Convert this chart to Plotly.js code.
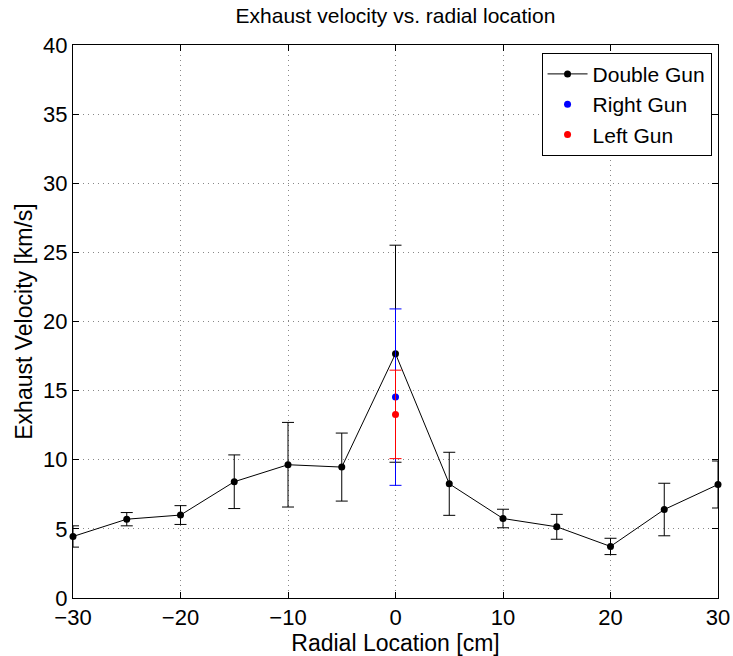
<!DOCTYPE html>
<html>
<head>
<meta charset="utf-8">
<script src="https://cdn.plot.ly/plotly-3.0.1.min.js"></script>
<style>html,body{margin:0;padding:0;background:#fff;}#chart{width:733px;height:656px;}</style>
</head>
<body>
<div id="chart"></div>
<script>
const radial = [-30, -25, -20, -15, -10, -5, 0, 5, 10, 15, 20, 25, 30];
const doubleGun = [4.45, 5.70, 6.0, 8.41, 9.64, 9.47, 17.67, 8.26, 5.75, 5.15, 3.73, 6.40, 8.21];
const doubleErr = [0.77, 0.48, 0.68, 1.94, 3.06, 2.46, 7.85, 2.28, 0.67, 0.90, 0.59, 1.90, 1.70];
const rightX = [0];
const rightGun = [14.53];
const rightErr = [6.38];
const leftX = [0];
const leftGun = [13.28];
const leftErr = [3.2];

const traces = [
  {
    x: radial, y: doubleGun, name: 'Double Gun', type: 'scatter', mode: 'lines+markers',
    line: {color: 'black', width: 1}, marker: {color: 'black', size: 7},
    error_y: {type: 'data', array: doubleErr, visible: true, color: 'black', thickness: 1, width: 6},
    cliponaxis: false
  },
  {
    x: rightX, y: rightGun, name: 'Right Gun', type: 'scatter', mode: 'markers',
    marker: {color: 'blue', size: 7},
    error_y: {type: 'data', array: rightErr, visible: true, color: 'blue', thickness: 1, width: 6},
    cliponaxis: false
  },
  {
    x: leftX, y: leftGun, name: 'Left Gun', type: 'scatter', mode: 'markers',
    marker: {color: 'red', size: 7},
    error_y: {type: 'data', array: leftErr, visible: true, color: 'red', thickness: 1, width: 6},
    cliponaxis: false
  }
];

const axisCommon = {
  showline: true, linecolor: 'black', linewidth: 1, mirror: 'ticks',
  ticks: 'inside', ticklen: 6, tickcolor: 'black',
  showgrid: true, gridcolor: '#888', griddash: '1px,4px', gridwidth: 1,
  zeroline: false,
  tickfont: {family: 'Liberation Sans, Arial, sans-serif', size: 22, color: 'black'}
};

const layout = {
  width: 733, height: 656,
  margin: {l: 73, r: 15, t: 45, b: 58},
  paper_bgcolor: 'white', plot_bgcolor: 'white',
  font: {family: 'Liberation Sans, Arial, sans-serif', color: 'black'},
  title: {text: 'Exhaust velocity vs. radial location', font: {size: 21, color: 'black'},
          x: 0.5, xref: 'paper', xanchor: 'center', y: 0.988, yanchor: 'top'},
  xaxis: Object.assign({}, axisCommon, {
    range: [-30, 30], dtick: 10, tick0: -30, ticklabelstandoff: 0,
    title: {text: 'Radial Location [cm]', font: {size: 23}, standoff: 0}
  }),
  yaxis: Object.assign({}, axisCommon, {
    range: [0, 40], dtick: 5, tick0: 0,
    title: {text: 'Exhaust Velocity [km/s]', font: {size: 23}, standoff: 4}
  }),
  showlegend: true,
  legend: {
    x: 0.99, xanchor: 'right', y: 0.986, yanchor: 'top',
    bgcolor: 'white', bordercolor: 'black', borderwidth: 1,
    font: {size: 21, color: 'black'}, tracegroupgap: 0, itemwidth: 40
  }
};

Plotly.newPlot('chart', traces, layout, {displayModeBar: false, staticPlot: true});
</script>
</body>
</html>
